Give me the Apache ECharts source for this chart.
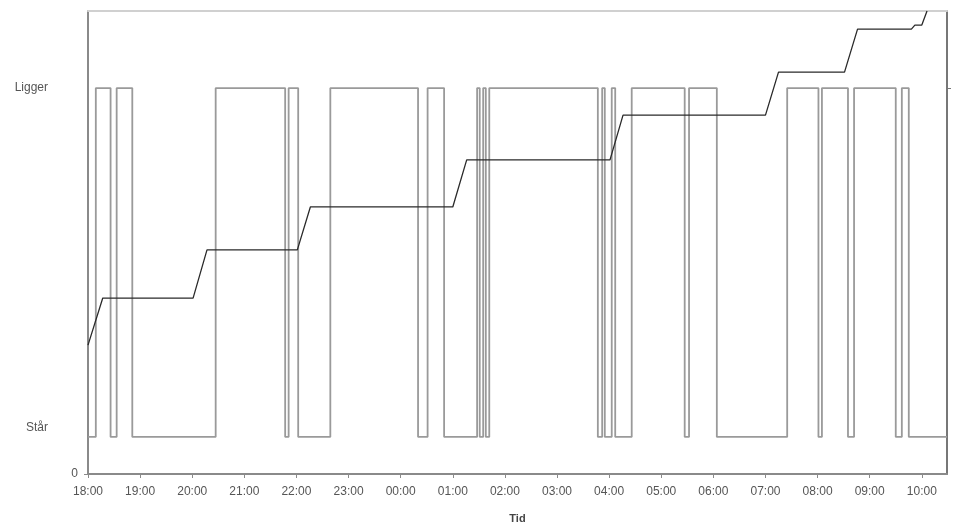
<!DOCTYPE html>
<html>
<head>
<meta charset="utf-8">
<script src="https://cdn.jsdelivr.net/npm/echarts@6/dist/echarts.min.js"></script>
<style>html,body{margin:0;padding:0;background:#fff;}#c{width:957px;height:524px;}</style>
</head>
<body>
<div id="c"></div>
<script>
// ---- data ----
const xTickLabels = ['18:00','19:00','20:00','21:00','22:00','23:00','00:00','01:00','02:00','03:00','04:00','05:00','06:00','07:00','08:00','09:00','10:00'];
const STAAR = 1;
const LIGGER = 10.42;
const stateLabels = ['0', 'Står', 'Ligger'];
// position (state) changes: time of change and new state
const stateTimes = ['18:00','18:09','18:26','18:33','18:51','20:27','21:47','21:51','22:02','22:39',
  '00:20','00:31','00:50','01:28','01:31','01:35','01:38','01:42','03:47','03:52','03:55','04:03','04:07',
  '04:26','05:27','05:32','06:04','07:25','08:01','08:05','08:35','08:42','09:30','09:37','09:45','10:29'];
const stateValues = ['S','L','S','L','S','L','S','L','S','L',
  'S','L','S','L','S','L','S','L','S','L','S','L','S',
  'L','S','L','S','L','S','L','S','L','S','L','S','S'];
// cumulative line
const cumTimes = ['18:00','18:17','20:01','20:17','22:01','22:16','01:00','01:16','04:01','04:16','07:00','07:15','08:31','08:46','09:48','09:52','10:00','10:06'];
const cumValues = [3.48,4.75,4.75,6.05,6.05,7.21,7.21,8.48,8.48,9.69,9.69,10.85,10.85,12.01,12.01,12.12,12.12,12.5];

// ---- helpers ----
function toMin(t){ const [h,m]=t.split(':').map(Number); let hh=h<18?h+24:h; return (hh-18)*60+m; }
const stateData = stateTimes.map((t,i)=>[toMin(t), stateValues[i]==='L'?LIGGER:STAAR]);
const cumData = cumTimes.map((t,i)=>[toMin(t), cumValues[i]]);
const X_MAX = toMin('10:29');
const STAAR_LABEL_POS = 1.24;

const chart = echarts.init(document.getElementById('c'));
const axisCol = '#8a8a8a';
chart.setOption({
  animation:false,
  backgroundColor:'#fff',
  textStyle:{fontFamily:'Liberation Sans, Arial, sans-serif'},
  grid:{left:88, right:10, top:11, bottom:50, containLabel:false, outerBoundsMode:'none'},
  xAxis:[{
    type:'value', min:0, max:X_MAX, interval:60,
    name:'Tid', nameLocation:'middle', nameGap:39,
    nameTextStyle:{fontSize:11, fontWeight:'bold', color:'#444'},
    axisLine:{show:true, onZero:false, lineStyle:{color:axisCol, width:2}},
    axisTick:{show:true, length:4, lineStyle:{color:axisCol}},
    splitLine:{show:false},
    axisLabel:{fontSize:12, color:'#555', margin:12,
      formatter:(v)=>{ const i=Math.round(v/60); return (v%60===0 && i<xTickLabels.length)? xTickLabels[i] : ''; },
      showMaxLabel:false}
  },{
    type:'value', min:0, max:X_MAX, position:'top',
    axisLine:{show:true, onZero:false, lineStyle:{color:'#d0d0d0', width:2}},
    axisTick:{show:false}, axisLabel:{show:false}, splitLine:{show:false}
  }],
  yAxis:[{
    type:'value', min:0, max:12.5,
    axisLine:{show:true, onZero:false, lineStyle:{color:axisCol, width:2}},
    splitLine:{show:false},
    axisTick:{show:true, length:4, customValues:[0], lineStyle:{color:axisCol}},
    axisLabel:{fontSize:12, color:'#555', margin:10,
      customValues:[0, STAAR_LABEL_POS, LIGGER],
      formatter:(v)=>{
        if (Math.abs(v)<0.01) return stateLabels[0];
        if (Math.abs(v-STAAR_LABEL_POS)<0.01) return '{p|'+stateLabels[1]+'}';
        return '{p|'+stateLabels[2]+'}';
      },
      rich:{p:{fontSize:12, color:'#555', padding:[0,30,0,0]}}
    }
  },{
    type:'value', min:0, max:12.5, position:'right',
    axisLine:{show:true, onZero:false, lineStyle:{color:'#777', width:2}},
    splitLine:{show:false},
    axisTick:{show:true, length:4, customValues:[LIGGER], lineStyle:{color:'#777'}},
    axisLabel:{show:false}
  }],
  series:[{
    type:'line', step:'end', data:stateData, xAxisIndex:0, yAxisIndex:0,
    showSymbol:false, symbol:'none',
    lineStyle:{color:'#9a9a9a', width:1.8}
  },{
    type:'line', data:cumData, xAxisIndex:0, yAxisIndex:1,
    showSymbol:false, symbol:'none', clip:true,
    lineStyle:{color:'#2a2a2a', width:1.3}
  }]
});
</script>
</body>
</html>
